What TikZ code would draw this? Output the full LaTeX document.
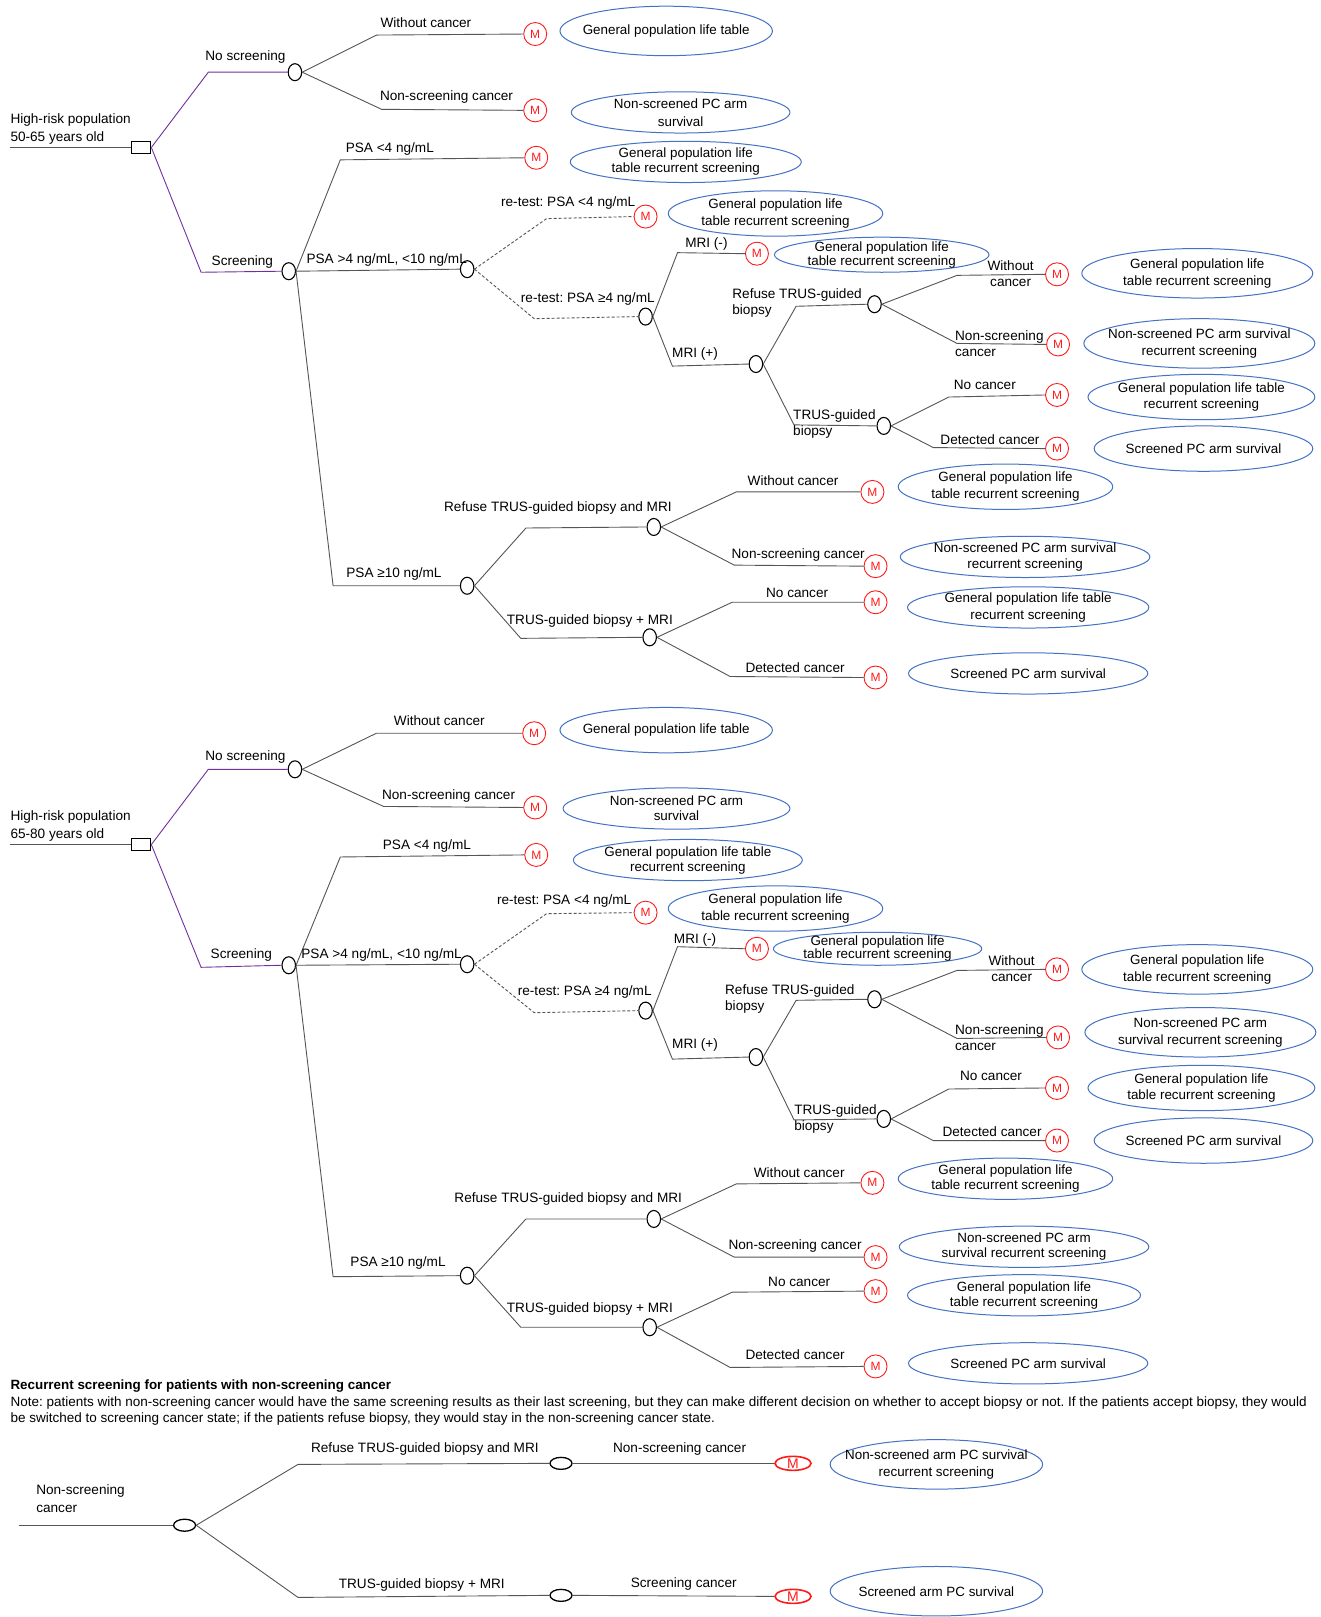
\documentclass[tikz,border=0pt]{standalone}
\usepackage{fontspec}
\setmainfont{Liberation Sans}
\usetikzlibrary{shapes.geometric}
\frenchspacing
\definecolor{edgegray}{HTML}{555555}
\definecolor{purp}{HTML}{7030A0}
\definecolor{oblue}{HTML}{4472C4}
\definecolor{mred}{HTML}{FF1A1A}
\tikzset{
 lbl/.style={inner sep=0pt, font=\fontsize{13.6}{18}\selectfont},
 lbltwo/.style={inner sep=0pt, font=\fontsize{13.6}{16}\selectfont},
 chance/.style={ellipse, draw=black, line width=1.1pt, minimum width=13.5pt, minimum height=17pt, inner sep=0pt, fill=white},
 rchance/.style={ellipse, draw=black, line width=1.3pt, minimum width=22pt, minimum height=12pt, inner sep=0pt, fill=white},
 dec/.style={rectangle, draw=black, line width=1.1pt, minimum width=19pt, minimum height=12.5pt, inner sep=0pt, fill=white},
 mnode/.style={circle, draw=mred, text=mred, line width=0.9pt, minimum size=23pt, inner sep=0pt, font=\fontsize{12}{12}\selectfont},
 rmnode/.style={ellipse, draw=mred, text=mred, line width=1.6pt, minimum width=36pt, minimum height=14pt, inner sep=0pt, font=\fontsize{14}{14}\selectfont},
 edge/.style={draw=edgegray, line width=0.9pt},
 pedge/.style={draw=purp, line width=0.9pt},
 dedge/.style={draw=edgegray, line width=0.9pt, dash pattern=on 3pt off 2pt},
 oline/.style={draw=oblue, line width=1pt},
 otext/.style={inner sep=0pt, align=center, font=\fontsize{13.4}{16.5}\selectfont},
}
\newcommand\outcome[6]{\draw[oline] (#2,#3) ellipse [x radius=#4, y radius=#5];\node[otext] (#1) at (#2,#3) {#6};}
\begin{document}
\begin{tikzpicture}[x=1.03125pt, y=-1.03125pt]
\fill[white] (0,0) rectangle (1280,1568);
\useasboundingbox (0,0) rectangle (1280,1568);

%% ===================== Tree A (50-65) =====================
\coordinate (rootA) at (10,143);
\node[dec] (dA) at (137,143) {};
\node[lbl, anchor=west] (hA1) at (10,116) {High-risk population};
\node[lbl, anchor=west] (hA2) at (10,134) {50-65 years old};
\draw[edge] (rootA) -- (dA.west);
\node[chance] (nsA) at (286,70) {};
\node[chance] (sA) at (280,263) {};
\draw[pedge] (dA.east) -- (202,70) -- (nsA.west);
\draw[pedge] (dA.east) -- (195,264) -- (sA.west);
\node[lbl] (lA1) at (238,55) {No screening};
\node[lbl] (lA2) at (235,254) {Screening};

\node[mnode] (mA1) at (519,33) {M};
\draw[edge] (nsA.east) -- (365,34) -- (mA1.west);
\node[lbl] (lA3) at (413,22) {Without cancer};
\outcome{oA1}{646}{30}{103}{24}{General population life table}
\node[mnode] (mA2) at (519,107) {M};
\draw[edge] (nsA.east) -- (370,106) -- (mA2.west);
\node[lbl] (lA4) at (433,94) {Non-screening cancer};
\outcome{oA2}{660}{109}{106}{20}{Non-screened PC arm\\[1.5pt]survival}

\node[mnode] (mA3) at (520,153) {M};
\draw[edge] (sA.east) -- (330,155) -- (mA3.west);
\node[lbl] (lA5) at (378,144) {PSA <4 ng/mL};
\outcome{oA3}{665}{157}{112}{20}{General population life\\[-1.5pt]table recurrent screening}
\node[chance] (pA) at (453,261) {};
\draw[edge] (sA.east) -- (pA.west);
\node[lbl] (lA6) at (375,252) {PSA >4 ng/mL, <10 ng/mL};
\node[chance] (qA) at (453,568) {};
\draw[edge] (sA.east) -- (323,568) -- (qA.west);
\node[lbl] (lA7) at (382,557) {PSA ≥10 ng/mL};

\node[mnode] (mA4) at (626,210) {M};
\draw[dedge] (pA.east) -- (530,212) -- (mA4.west);
\node[lbl] (lA8) at (551,197) {re-test: PSA <4 ng/mL};
\outcome{oA4}{752}{207}{104}{22}{General population life\\table recurrent screening}
\node[chance] (rA) at (626,307) {};
\draw[dedge] (pA.east) -- (518,309) -- (rA.west);
\node[lbl] (lA9) at (570,290) {re-test: PSA ≥4 ng/mL};

\node[mnode] (mA5) at (734,246) {M};
\draw[edge] (rA.east) -- (657,245) -- (mA5.west);
\node[lbl] (lA10) at (685,237) {MRI (-)};
\outcome{oA5}{855}{247}{104}{17}{General population life\\[-2.5pt]table recurrent screening}
\node[chance] (tA) at (733,353) {};
\draw[edge] (rA.east) -- (652,355) -- (tA.west);
\node[lbl] (lA11) at (674,343) {MRI (+)};

\node[chance] (uA) at (848,295) {};
\draw[edge] (tA.east) -- (772,297) -- (uA.west);
\node[lbltwo, anchor=west, align=left] (lA12) at (710,294) {Refuse TRUS-guided\\biopsy};
\node[chance] (vA) at (857,413) {};
\draw[edge] (tA.east) -- (770,412) -- (vA.west);
\node[lbltwo, anchor=west, align=left] (lA13) at (769,411) {TRUS-guided\\biopsy};

\node[mnode] (mA6) at (1025,266) {M};
\draw[edge] (uA.east) -- (928,267) -- (mA6.west);
\node[lbltwo, align=center] (lA14) at (980,265) {Without\\cancer};
\outcome{oA6}{1161}{265}{112}{24}{General population life\\table recurrent screening}
\node[mnode] (mA7) at (1026,334) {M};
\draw[edge] (uA.east) -- (928,333) -- (mA7.west);
\node[lbltwo, anchor=west, align=left] (lA15) at (926,333) {Non-screening\\cancer};
\outcome{oA7}{1163}{333}{112}{24}{Non-screened PC arm survival\\recurrent screening}

\node[mnode] (mA8) at (1025,383) {M};
\draw[edge] (vA.east) -- (920,385) -- (mA8.west);
\node[lbl] (lA16) at (955,373) {No cancer};
\outcome{oA8}{1165}{385}{110}{22}{General population life table\\recurrent screening}
\node[mnode] (mA9) at (1025,435) {M};
\draw[edge] (vA.east) -- (905,434) -- (mA9.west);
\node[lbl] (lA17) at (960,426) {Detected cancer};
\outcome{oA9}{1167}{435}{106}{22}{Screened PC arm survival}

\node[chance] (wA) at (634,511) {};
\draw[edge] (qA.east) -- (510,512) -- (wA.west);
\node[lbl] (lA18) at (541,493) {Refuse TRUS-guided biopsy and MRI};
\node[chance] (xA) at (630,618) {};
\draw[edge] (qA.east) -- (505,619) -- (xA.west);
\node[lbl] (lA19) at (572,602) {TRUS-guided biopsy + MRI};

\node[mnode] (mA10) at (846,477) {M};
\draw[edge] (wA.east) -- (714,477) -- (mA10.west);
\node[lbl] (lA20) at (769,466) {Without cancer};
\outcome{oA10}{975}{472}{104}{22}{General population life\\table recurrent screening}
\node[mnode] (mA11) at (849,549) {M};
\draw[edge] (wA.east) -- (712,548) -- (mA11.west);
\node[lbl] (lA21) at (774,538) {Non-screening cancer};
\outcome{oA11}{994}{540}{121}{20}{Non-screened PC arm survival\\recurrent screening}

\node[mnode] (mA12) at (849,584) {M};
\draw[edge] (xA.east) -- (710,584) -- (mA12.west);
\node[lbl] (lA22) at (773,575) {No cancer};
\outcome{oA12}{997}{589}{117}{20}{General population life table\\recurrent screening}
\node[mnode] (mA13) at (849,657) {M};
\draw[edge] (xA.east) -- (708,656) -- (mA13.west);
\node[lbl] (lA23) at (771,647) {Detected cancer};
\outcome{oA13}{997}{653}{116}{20}{Screened PC arm survival}

%% ===================== Tree B (65-80) =====================
\coordinate (rootB) at (10,819);
\node[dec] (dB) at (137,819) {};
\node[lbl, anchor=west] (hB1) at (10,792) {High-risk population};
\node[lbl, anchor=west] (hB2) at (10,810) {65-80 years old};
\draw[edge] (rootB) -- (dB.west);
\node[chance] (nsB) at (286,746) {};
\node[chance] (sB) at (280,936) {};
\draw[pedge] (dB.east) -- (202,746) -- (nsB.west);
\draw[pedge] (dB.east) -- (195,938) -- (sB.west);
\node[lbl] (lB1) at (238,734) {No screening};
\node[lbl] (lB2) at (234,926) {Screening};

\node[mnode] (mB1) at (518,711) {M};
\draw[edge] (nsB.east) -- (365,711) -- (mB1.west);
\node[lbl] (lB3) at (426,699) {Without cancer};
\outcome{oB1}{646}{708}{103}{22}{General population life table}
\node[mnode] (mB2) at (519,783) {M};
\draw[edge] (nsB.east) -- (372,782) -- (mB2.west);
\node[lbl] (lB4) at (435,772) {Non-screening cancer};
\outcome{oB2}{656}{784}{110}{20}{Non-screened PC arm\\[-1.5pt]survival}

\node[mnode] (mB3) at (520,829) {M};
\draw[edge] (sB.east) -- (330,831) -- (mB3.west);
\node[lbl] (lB5) at (414,820) {PSA <4 ng/mL};
\outcome{oB3}{667}{834}{111}{20}{General population life table\\[-1.5pt]recurrent screening}
\node[chance] (pB) at (453,935) {};
\draw[edge] (sB.east) -- (pB.west);
\node[lbl] (lB6) at (370,926) {PSA >4 ng/mL, <10 ng/mL};
\node[chance] (qB) at (453,1237) {};
\draw[edge] (sB.east) -- (323,1238) -- (qB.west);
\node[lbl] (lB7) at (386,1225) {PSA ≥10 ng/mL};

\node[mnode] (mB4) at (626,885) {M};
\draw[dedge] (pB.east) -- (530,886) -- (mB4.west);
\node[lbl] (lB8) at (547,874) {re-test: PSA <4 ng/mL};
\outcome{oB4}{752}{881}{104}{22}{General population life\\table recurrent screening}
\node[chance] (rB) at (626,980) {};
\draw[dedge] (pB.east) -- (518,982) -- (rB.west);
\node[lbl] (lB9) at (567,962) {re-test: PSA ≥4 ng/mL};

\node[mnode] (mB5) at (734,920) {M};
\draw[edge] (rB.east) -- (657,918) -- (mB5.west);
\node[lbl] (lB10) at (674,911) {MRI (-)};
\outcome{oB5}{851}{920}{101}{16}{General population life\\[-3pt]table recurrent screening}
\node[chance] (tB) at (733,1025) {};
\draw[edge] (rB.east) -- (652,1027) -- (tB.west);
\node[lbl] (lB11) at (674,1013) {MRI (+)};

\node[chance] (uB) at (848,969) {};
\draw[edge] (tB.east) -- (772,970) -- (uB.west);
\node[lbltwo, anchor=west, align=left] (lB12) at (703,969) {Refuse TRUS-guided\\biopsy};
\node[chance] (vB) at (857,1085) {};
\draw[edge] (tB.east) -- (770,1086) -- (vB.west);
\node[lbltwo, anchor=west, align=left] (lB13) at (770,1085) {TRUS-guided\\biopsy};

\node[mnode] (mB6) at (1025,940) {M};
\draw[edge] (uB.east) -- (928,941) -- (mB6.west);
\node[lbltwo, align=center] (lB14) at (981,939) {Without\\cancer};
\outcome{oB6}{1161}{940}{112}{24}{General population life\\table recurrent screening}
\node[mnode] (mB7) at (1026,1006) {M};
\draw[edge] (uB.east) -- (928,1007) -- (mB7.west);
\node[lbltwo, anchor=west, align=left] (lB15) at (926,1006) {Non-screening\\cancer};
\outcome{oB7}{1164}{1001}{112}{24}{Non-screened PC arm\\survival recurrent screening}

\node[mnode] (mB8) at (1025,1055) {M};
\draw[edge] (vB.east) -- (920,1056) -- (mB8.west);
\node[lbl] (lB16) at (961,1043) {No cancer};
\outcome{oB8}{1165}{1055}{110}{22}{General population life\\table recurrent screening}
\node[mnode] (mB9) at (1025,1106) {M};
\draw[edge] (vB.east) -- (905,1106) -- (mB9.west);
\node[lbl] (lB17) at (962,1097) {Detected cancer};
\outcome{oB9}{1167}{1106}{106}{22}{Screened PC arm survival}

\node[chance] (wB) at (634,1182) {};
\draw[edge] (qB.east) -- (510,1182) -- (wB.west);
\node[lbl] (lB18) at (551,1163) {Refuse TRUS-guided biopsy and MRI};
\node[chance] (xB) at (630,1287) {};
\draw[edge] (qB.east) -- (505,1287) -- (xB.west);
\node[lbl] (lB19) at (572,1269) {TRUS-guided biopsy + MRI};

\node[mnode] (mB10) at (846,1147) {M};
\draw[edge] (wB.east) -- (714,1148) -- (mB10.west);
\node[lbl] (lB20) at (775,1137) {Without cancer};
\outcome{oB10}{975}{1143}{104}{20}{General population life\\[-1.5pt]table recurrent screening}
\node[mnode] (mB11) at (849,1219) {M};
\draw[edge] (wB.east) -- (712,1219) -- (mB11.west);
\node[lbl] (lB21) at (771,1208) {Non-screening cancer};
\outcome{oB11}{993}{1209}{121}{20}{Non-screened PC arm\\[-1.5pt]survival recurrent screening}

\node[mnode] (mB12) at (849,1252) {M};
\draw[edge] (xB.east) -- (710,1253) -- (mB12.west);
\node[lbl] (lB22) at (775,1243) {No cancer};
\outcome{oB12}{993}{1256}{113}{20}{General population life\\[-1.5pt]table recurrent screening}
\node[mnode] (mB13) at (849,1325) {M};
\draw[edge] (xB.east) -- (708,1326) -- (mB13.west);
\node[lbl] (lB23) at (771,1314) {Detected cancer};
\outcome{oB13}{997}{1322}{116}{20}{Screened PC arm survival}

%% ===================== Recurrent screening =====================
\node[lbl, anchor=west, font=\fontsize{13.4}{15}\selectfont\bfseries] (tC1) at (10,1344) {Recurrent screening for patients with non-screening cancer};
\node[lbl, anchor=west, font=\fontsize{13.5}{15}\selectfont] (tC2) at (10,1360) {Note: patients with non-screening cancer would have the same screening results as their last screening, but they can make different decision on whether to accept biopsy or not. If the patients accept biopsy, they would};
\node[lbl, anchor=west, font=\fontsize{13.5}{15}\selectfont] (tC3) at (10,1376) {be switched to screening cancer state; if the patients refuse biopsy, they would stay in the non-screening cancer state.};

\node[lbl, anchor=west, align=left] (lC1) at (35,1453) {Non-screening\\cancer};
\coordinate (rootC) at (18,1479);
\node[rchance] (cC) at (179,1479) {};
\draw[edge] (rootC) -- (cC.west);
\node[rchance] (c1C) at (544,1419) {};
\node[rchance] (c2C) at (544,1547) {};
\draw[edge] (cC.east) -- (289,1420) -- (c1C.west);
\draw[edge] (cC.east) -- (289,1549) -- (c2C.west);
\node[lbl] (lC2) at (412,1405) {Refuse TRUS-guided biopsy and MRI};
\node[lbl] (lC3) at (409,1537) {TRUS-guided biopsy + MRI};
\node[rmnode] (m1C) at (769,1419) {M};
\node[rmnode] (m2C) at (769,1548) {M};
\draw[edge] (c1C.east) -- (m1C.west);
\draw[edge] (c2C.east) -- (m2C.west);
\node[lbl] (lC4) at (659,1405) {Non-screening cancer};
\node[lbl] (lC5) at (663,1536) {Screening cancer};
\outcome{oC1}{908}{1420}{103}{24}{Non-screened arm PC survival\\recurrent screening}
\outcome{oC2}{908}{1543}{103}{24}{Screened arm PC survival}
\end{tikzpicture}
\end{document}
